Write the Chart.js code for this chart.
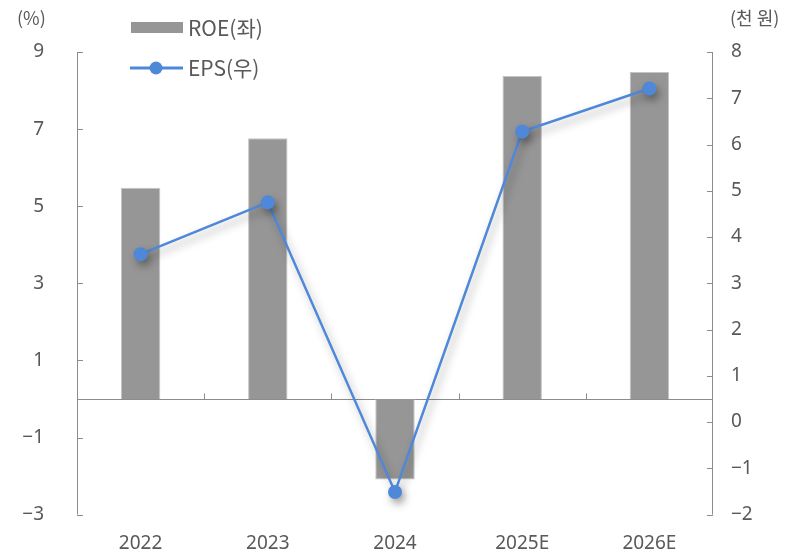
<!DOCTYPE html>
<html>
<head>
<meta charset="utf-8">
<script src="https://cdn.jsdelivr.net/npm/chart.js@4"></script>
<style>
  html, body { margin: 0; padding: 0; background: #fff; }
  #wrap { width: 808px; height: 551px; }
</style>
</head>
<body>
<div id="wrap"><canvas id="chart" width="808" height="551"></canvas></div>
<script>
// 연도별 ROE(%)와 EPS(천 원)
const years = ["2022", "2023", "2024", "2025E", "2026E"];
const roe = [5.48, 6.76, -2.09, 8.38, 8.48];
const eps = [3.63, 4.75, -1.51, 6.28, 7.21];
const leftTicks = [-3, -1, 1, 3, 5, 7, 9];
const rightTicks = [-2, -1, 0, 1, 2, 3, 4, 5, 6, 7, 8];

const FONT = "'Noto Sans', 'Noto Sans CJK KR', sans-serif";
const KFONT = "'Noto Sans CJK KR', sans-serif";
const TEXT = "#595959";
const AXIS = "#8c8c8c";
const BAR = "#969696";
const LINE = "#4f88d8";

const fmt = (v) => (v < 0 ? "\u2212" + Math.abs(v) : String(v));

// 축 눈금(안쪽), 0 기준선, 단위, 범례
const decorPlugin = {
  id: "decor",
  beforeDatasetsDraw(chart) {
    const { ctx, chartArea: a, scales } = chart;
    const yl = scales.y, yr = scales.y1;
    ctx.save();
    ctx.strokeStyle = AXIS;
    ctx.lineWidth = 1;
    ctx.beginPath();
    ctx.moveTo(a.left + 0.5, a.top); ctx.lineTo(a.left + 0.5, a.bottom);
    ctx.moveTo(a.right - 0.5, a.top); ctx.lineTo(a.right - 0.5, a.bottom);
    leftTicks.forEach((v) => {
      const py = Math.round(yl.getPixelForValue(v)) + 0.5;
      ctx.moveTo(a.left, py); ctx.lineTo(a.left + 6, py);
    });
    rightTicks.forEach((v) => {
      const py = Math.round(yr.getPixelForValue(v)) + 0.5;
      ctx.moveTo(a.right - 6, py); ctx.lineTo(a.right, py);
    });
    const zy = Math.round(yl.getPixelForValue(0)) + 0.5;
    ctx.moveTo(a.left, zy); ctx.lineTo(a.right, zy);
    const step = (a.right - a.left) / years.length;
    for (let i = 1; i < years.length; i++) {
      const px = Math.round(a.left + step * i) + 0.5;
      ctx.moveTo(px, zy); ctx.lineTo(px, zy - 6);
    }
    ctx.stroke();
    ctx.restore();
  },
  afterDraw(chart) {
    const { ctx } = chart;
    ctx.save();
    ctx.fillStyle = TEXT;
    ctx.font = "18px " + KFONT;
    ctx.textBaseline = "middle";
    ctx.textAlign = "left";
    ctx.fillText("(%)", 17, 18);
    ctx.fillText("(천 원)", 730, 18);

    // 범례
    ctx.fillStyle = BAR;
    ctx.fillRect(131, 22, 52, 11);
    ctx.strokeStyle = LINE;
    ctx.lineWidth = 3;
    ctx.beginPath();
    ctx.moveTo(130, 68); ctx.lineTo(183, 68);
    ctx.stroke();
    ctx.fillStyle = LINE;
    ctx.beginPath();
    ctx.arc(156, 68, 6.5, 0, Math.PI * 2);
    ctx.fill();
    ctx.fillStyle = TEXT;
    ctx.font = "21px " + KFONT;
    ctx.fillText("ROE(좌)", 188, 28);
    ctx.fillText("EPS(우)", 188, 68);
    ctx.restore();
  }
};

// 꺾은선 그림자
const shadowPlugin = {
  id: "lineShadow",
  beforeDatasetDraw(chart, args) {
    if (args.meta.type !== "line") return;
    const ctx = chart.ctx;
    ctx.save();
    ctx.shadowColor = "rgba(0,0,0,0.35)";
    ctx.shadowBlur = 9;
    ctx.shadowOffsetX = 3;
    ctx.shadowOffsetY = 5;
  },
  afterDatasetDraw(chart, args) {
    if (args.meta.type !== "line") return;
    chart.ctx.restore();
  }
};

new Chart(document.getElementById("chart"), {
  data: {
    labels: years,
    datasets: [
      {
        type: "line",
        label: "EPS(우)",
        data: eps,
        yAxisID: "y1",
        borderColor: LINE,
        backgroundColor: LINE,
        borderWidth: 2.5,
        pointRadius: 7,
        pointBorderWidth: 0,
        tension: 0,
        order: 0
      },
      {
        type: "bar",
        label: "ROE(좌)",
        data: roe,
        yAxisID: "y",
        backgroundColor: BAR,
        borderColor: "#c4c4c4",
        borderWidth: 1,
        categoryPercentage: 1,
        barPercentage: 0.31,
        order: 1
      }
    ]
  },
  options: {
    responsive: false,
    animation: false,
    layout: { padding: { top: 52, left: 0, right: 0, bottom: 0 } },
    plugins: { legend: { display: false }, tooltip: { enabled: false } },
    scales: {
      x: {
        grid: { display: false },
        border: { display: false },
        ticks: { color: TEXT, font: { family: FONT, size: 19 }, padding: 10 },
        afterFit: (s) => { s.height = 36; }
      },
      y: {
        position: "left",
        min: -3, max: 9,
        afterBuildTicks: (s) => { s.ticks = leftTicks.map((v) => ({ value: v })); },
        grid: { display: false },
        border: { display: false },
        ticks: { color: TEXT, font: { family: FONT, size: 19 }, padding: 25, callback: (v) => fmt(v) },
        afterFit: (s) => { s.width = 77; }
      },
      y1: {
        position: "right",
        min: -2, max: 8,
        afterBuildTicks: (s) => { s.ticks = rightTicks.map((v) => ({ value: v })); },
        grid: { display: false },
        border: { display: false },
        ticks: { color: TEXT, font: { family: FONT, size: 19 }, padding: 10, callback: (v) => fmt(v) },
        afterFit: (s) => { s.width = 95; }
      }
    }
  },
  plugins: [decorPlugin, shadowPlugin]
});
</script>
</body>
</html>
